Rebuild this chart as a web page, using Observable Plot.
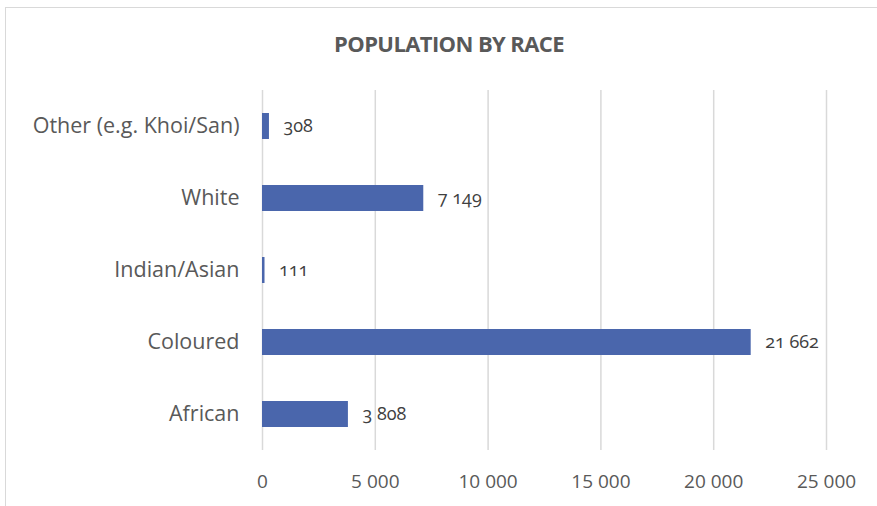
<!DOCTYPE html>
<html>
<head>
<meta charset="utf-8">
<script src="https://cdn.jsdelivr.net/npm/d3@7"></script>
<script src="https://cdn.jsdelivr.net/npm/@observablehq/plot@0.6"></script>
<style>
  html, body { margin: 0; padding: 0; background: #fff; overflow: hidden; width: 877px; height: 506px; }
  #frame { position: absolute; left: 5px; top: 7px; width: 900px; height: 520px; border-left: 1.5px solid #d9d9d9; border-top: 1.5px solid #d9d9d9; box-sizing: border-box; }
  #title { position: absolute; left: 0; top: 0; width: 877px; height: 90px; text-align: center; }
  #title span { position: absolute; left: 449px; top: 43px; transform: translate(-50%, -50%); font-family: "Open Sans", sans-serif; font-weight: bold; font-size: 22px; color: #595959; letter-spacing: -0.6px; white-space: nowrap; }
  #chart { position: absolute; left: 0; top: 90px; }
  #chart svg { font-variant-numeric: oldstyle-nums; }
</style>
</head>
<body>
<div id="frame"></div>
<div id="title"><span>POPULATION BY RACE</span></div>
<div id="chart"></div>
<script>
const categories = ["Other (e.g. Khoi/San)", "White", "Indian/Asian", "Coloured", "African"];
const values = [308, 7149, 111, 21662, 3808];
const xTicks = [0, 5000, 10000, 15000, 20000, 25000];

const data = categories.map((c, i) => ({category: c, value: values[i]}));
const locale = d3.formatLocale({decimal: ",", thousands: " ", grouping: [3], currency: ["", ""]});
const fmt = locale.format(",d");

const chart = Plot.plot({
  width: 877,
  height: 416,
  marginLeft: 262,
  marginRight: 51,
  marginTop: 0,
  marginBottom: 56,
  style: {fontFamily: "'Open Sans', sans-serif", color: "#595959", background: "transparent", overflow: "visible"},
  x: {domain: [0, 25000], ticks: xTicks, tickFormat: fmt, label: null},
  y: {domain: categories, paddingInner: 0.64, paddingOuter: 0.32, label: null},
  marks: [
    Plot.gridX(xTicks, {stroke: "#d9d9d9", strokeOpacity: 1, strokeWidth: 1.5}),
    Plot.barX(data, {x: "value", y: "category", fill: "#4a66ac"}),
    Plot.text(data, {x: "value", y: "category", text: d => fmt(d.value), textAnchor: "start", dx: 14, fontSize: 18, fill: "#404040"}),
    Plot.axisX(xTicks, {tickSize: 0, tickPadding: 24, fontSize: 19, tickFormat: fmt, label: null, fill: "#595959", style: {letterSpacing: "0.5px"}}),
    Plot.axisY({tickSize: 0, tickPadding: 23, fontSize: 21.5, label: null, fill: "#595959"})
  ]
});
document.getElementById("chart").appendChild(chart);
</script>
</body>
</html>
